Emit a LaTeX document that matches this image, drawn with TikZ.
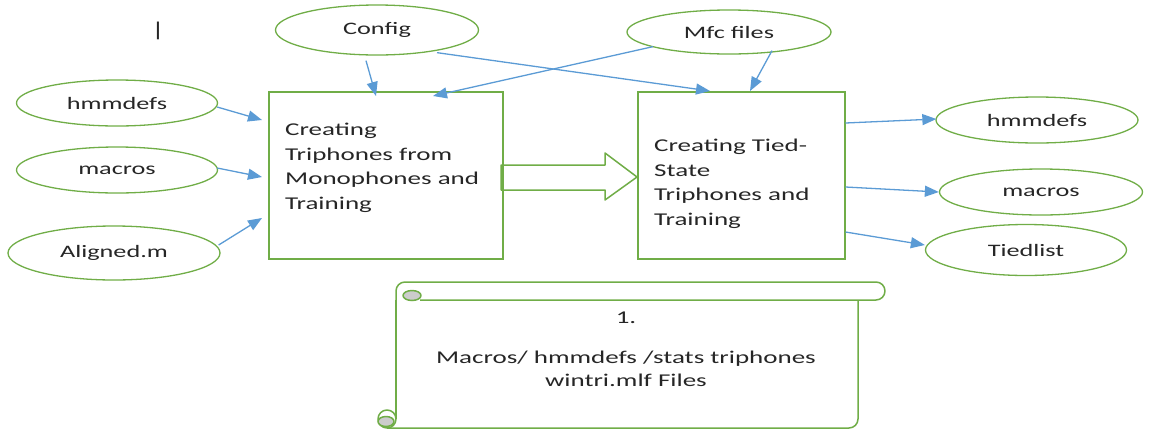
\documentclass[tikz,border=0pt]{standalone}
\usepackage{fontspec}
\setmainfont{Carlito}[FakeStretch=1.5]
\usetikzlibrary{shapes.geometric,arrows.meta,calc}
\definecolor{gr}{HTML}{70AD47}
\definecolor{bl}{HTML}{5B9BD5}
\definecolor{tx}{HTML}{262626}
\begin{document}
\begin{tikzpicture}[x=1pt,y=-1pt,
 ell/.style={ellipse,draw=gr,line width=1.3pt,inner sep=0pt,text=tx,font=\fontsize{17.5}{20}\selectfont},
 box/.style={draw=gr,line width=1.5pt,rectangle,inner sep=0pt,anchor=north west},
 arr/.style={draw=bl,line width=1.3pt,-{Triangle[length=14pt,width=11pt]}},
 lbl/.style={text=tx,font=\fontsize{18}{24.5}\selectfont,align=left,inner sep=0pt},
 gline/.style={draw=gr,line width=1.5pt,line join=round}]
\useasboundingbox (0,0) rectangle (1149,429);

% ellipses
\node[ell,minimum width=203,minimum height=50] (config) at (377,30) {Config};
\node[ell,minimum width=204,minimum height=44] (mfc) at (729,32) {Mfc files};
\node[ell,minimum width=201,minimum height=46] (hl) at (117,103) {hmmdefs};
\node[ell,minimum width=201,minimum height=46] (ml) at (117,170) {macros};
\node[ell,minimum width=212,minimum height=54] (al) at (114,253) {Aligned.m};
\node[ell,minimum width=202,minimum height=46] (hr) at (1037,120) {hmmdefs};
\node[ell,minimum width=203,minimum height=46] (mr) at (1041,192) {macros};
\node[ell,minimum width=201,minimum height=51] (tr) at (1026,250) {Tiedlist};

\node[text=tx,font=\fontsize{20}{22}\selectfont,inner sep=0pt] (bar) at (158,31) {|};

% big block arrow
\draw[gline,fill=white] (501,165) -- (605,165) -- (605,153) -- (637,177) -- (605,200) -- (605,190) -- (501,190) -- cycle;

% boxes
\node[box,minimum width=234,minimum height=167] (L) at (268,91) {};
\node[box,minimum width=207,minimum height=167] (R) at (637,91) {};
\node[lbl,anchor=west] (Lt) at (285,168) {Creating\\Triphones from\\Monophones and\\Training};
\node[lbl,anchor=west] (Rt) at (654,184) {Creating Tied-\\State\\Triphones and\\Training};

% scroll
\draw[gline] (396,300) -- (396,291) arc[start angle=180,end angle=270,radius=9] -- (876,282) arc[start angle=-90,end angle=90,radius=9] -- (420,300);
\filldraw[gline,fill=gray!40] (412,295.5) ellipse[x radius=9,y radius=5];
\draw[gline] (858,300) -- (858,419) arc[start angle=0,end angle=90,radius=9] -- (387,428);
\draw[gline] (396,300) -- (396,419);
\filldraw[gline,fill=white] (387,419) circle[radius=9];
\filldraw[gline,fill=gray!40] (386,421.5) ellipse[x radius=8,y radius=5];
\node[lbl,align=center] (n1) at (626,318) {1.};
\node[lbl,align=center,font=\fontsize{18}{23}\selectfont] (st) at (626,369) {Macros/ hmmdefs /stats triphones\\wintri.mlf Files};

% connectors
\draw[arr] ($(hl.east)+(-1,4)$) -- ($(L.north west)+(-6,29)$);
\draw[arr] ($(ml.east)+(-1,-2)$) -- ($(L.north west)+(-6,86)$);
\draw[arr] ($(al.east)+(-2,-8)$) -- ($(L.north west)+(-6,127)$);
\draw[arr] ($(config.south)+(-11,5)$) -- ($(L.north west)+(108,5)$);
\draw[arr] ($(config.south)+(60,-3)$) -- ($(R.north west)+(73,0)$);
\draw[arr] ($(mfc.south)+(-76,-8)$) -- ($(L.north west)+(165,5)$);
\draw[arr] ($(mfc.south)+(43,-4)$) -- ($(R.north west)+(113,0)$);
\draw[arr] ($(R.north east)+(0,32)$) -- ($(hr.west)+(1,-1)$);
\draw[arr] ($(R.north east)+(0,96)$) -- (mr.west);
\draw[arr] ($(R.north east)+(0,141)$) -- ($(tr.west)+(0,-5)$);
\end{tikzpicture}
\end{document}
